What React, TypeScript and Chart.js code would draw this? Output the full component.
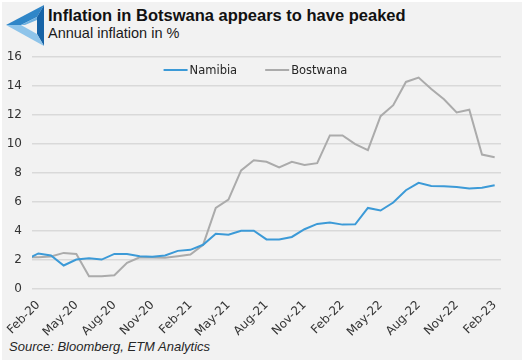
import React, { useEffect, useRef } from 'react';
import { Chart, registerables } from 'chart.js';

Chart.register(...registerables);

const months: string[] = [
  'Jan-20', 'Feb-20', 'Mar-20', 'Apr-20', 'May-20', 'Jun-20', 'Jul-20', 'Aug-20', 'Sep-20', 'Oct-20', 'Nov-20', 'Dec-20',
  'Jan-21', 'Feb-21', 'Mar-21', 'Apr-21', 'May-21', 'Jun-21', 'Jul-21', 'Aug-21', 'Sep-21', 'Oct-21', 'Nov-21', 'Dec-21',
  'Jan-22', 'Feb-22', 'Mar-22', 'Apr-22', 'May-22', 'Jun-22', 'Jul-22', 'Aug-22', 'Sep-22', 'Oct-22', 'Nov-22', 'Dec-22',
  'Jan-23', 'Feb-23',
];

const firstShown = 'Feb-20';

const namibia: number[] = [
  2.0, 2.45, 2.31, 1.62, 2.03, 2.12, 2.03, 2.42, 2.42, 2.26, 2.22, 2.31,
  2.63, 2.7, 3.05, 3.81, 3.74, 4.02, 4.02, 3.42, 3.42, 3.59, 4.12, 4.49,
  4.58, 4.44, 4.46, 5.59, 5.41, 5.96, 6.81, 7.32, 7.11, 7.09, 7.04, 6.93,
  6.99, 7.16,
];

const botswana: number[] = [
  2.2, 2.19, 2.24, 2.49, 2.42, 0.88, 0.88, 0.95, 1.8, 2.19, 2.17, 2.15,
  2.26, 2.38, 3.05, 5.59, 6.17, 8.18, 8.88, 8.77, 8.38, 8.77, 8.56, 8.68,
  10.59, 10.59, 9.99, 9.58, 11.92, 12.68, 14.28, 14.58, 13.79, 13.08, 12.18, 12.36,
  9.27, 9.09,
];

const seriesNames = ['Namibia', 'Bostwana'];
const yMin = 0;
const yMax = 16;
const yStep = 2;

const TICK_FONT = '"DejaVu Sans", Verdana, sans-serif';

const inlineLegend = {
  id: 'inlineLegend',
  afterDraw(chart: any) {
    const { ctx, chartArea } = chart;
    ctx.save();
    ctx.font = '11.5px ' + TICK_FONT;
    ctx.textBaseline = 'middle';
    const lineLen = 24;
    const gap = 2;
    const spacing = 28;
    const items = chart.data.datasets.map((ds: any) => ({
      text: ds.label,
      color: ds.borderColor,
      w: lineLen + gap + ctx.measureText(ds.label).width,
    }));
    const total = items.reduce((s: number, it: any) => s + it.w, 0) + spacing * (items.length - 1);
    const cx = (chartArea.left + chartArea.right) / 2 - 11;
    let x = cx - total / 2;
    const y = chartArea.top + 13;
    items.forEach((it: any) => {
      ctx.strokeStyle = it.color;
      ctx.lineWidth = 2;
      ctx.beginPath();
      ctx.moveTo(x, y);
      ctx.lineTo(x + lineLen, y);
      ctx.stroke();
      ctx.fillStyle = '#262626';
      ctx.textAlign = 'left';
      ctx.fillText(it.text, x + lineLen + gap, y + 1);
      x += it.w + spacing;
    });
    ctx.restore();
  },
};

export default function App() {
  const ref = useRef<HTMLCanvasElement | null>(null);

  useEffect(() => {
    if (!ref.current) return;
    const chart = new Chart(ref.current, {
      type: 'line',
      data: {
        labels: months,
        datasets: [
          {
            label: seriesNames[0],
            data: namibia,
            borderColor: '#3c9ad7',
            backgroundColor: '#3c9ad7',
            borderWidth: 2,
            pointRadius: 0,
            tension: 0,
          },
          {
            label: seriesNames[1],
            data: botswana,
            borderColor: '#ababab',
            backgroundColor: '#ababab',
            borderWidth: 2,
            pointRadius: 0,
            tension: 0,
          },
        ],
      },
      options: {
        animation: false,
        responsive: false,
        maintainAspectRatio: false,
        layout: { padding: { left: 0, right: 21, top: 57, bottom: 0 } },
        plugins: {
          legend: { display: false },
          tooltip: { enabled: false },
          title: { display: false },
        },
        scales: {
          x: {
            type: 'category',
            min: firstShown,
            offset: true,
            grid: { display: false, drawTicks: false },
            border: { display: false },
            ticks: {
              autoSkip: false,
              minRotation: 45,
              maxRotation: 45,
              padding: 9,
              color: '#333333',
              font: { family: TICK_FONT, size: 12 },
              callback: function (this: any, value: any) {
                const start = months.indexOf(firstShown);
                return (Number(value) - start) % 3 === 0 ? this.getLabelForValue(value) : '';
              },
            },
            afterFit: (scale: any) => {
              scale.height = 71;
            },
          },
          y: {
            min: yMin,
            max: yMax,
            ticks: {
              stepSize: yStep,
              padding: 10,
              color: '#333333',
              font: { family: TICK_FONT, size: 12 },
            },
            grid: { color: '#d9d9d9', lineWidth: 1.5, drawTicks: false },
            border: { display: false },
            afterFit: (scale: any) => {
              scale.width = 31;
            },
          },
        },
      },
      plugins: [inlineLegend],
    } as any);
    return () => chart.destroy();
  }, []);

  return (
    <div style={{ position: 'absolute', left: 0, top: 0, width: 522, height: 360, background: '#ffffff', overflow: 'hidden' }}>
      <div style={{ position: 'absolute', left: 2, top: 2, width: 520, height: 358, background: '#f2f2f2' }} />
      <svg width={522} height={360} style={{ position: 'absolute', left: 0, top: 0 }}>
        <polygon points="6,25 44,5 37,17 21,25" fill="#2f86c8" />
        <polygon points="44,5 44,46 37,34 37,17" fill="#1763a6" />
        <polygon points="6,25 21,25 37,34 44,46" fill="#8ec4ea" />
        <polygon points="21,25 37,17 37,20 25,25" fill="#6fb1e0" />
        <text x={48} y={21} fontFamily='"Liberation Sans", Arial, sans-serif' fontWeight="bold" fontSize={16.5} fill="#111111">
          Inflation in Botswana appears to have peaked
        </text>
        <text x={48} y={38} fontFamily='"Liberation Sans", Arial, sans-serif' fontSize={14.5} fill="#1a1a1a">
          Annual inflation in %
        </text>
        <text x={9} y={351} fontFamily='"Liberation Sans", Arial, sans-serif' fontStyle="italic" fontSize={13} fill="#262626">
          Source: Bloomberg, ETM Analytics
        </text>
      </svg>
      <canvas ref={ref} width={522} height={360} style={{ position: 'absolute', left: 0, top: 0, display: 'block' }} />
    </div>
  );
}
